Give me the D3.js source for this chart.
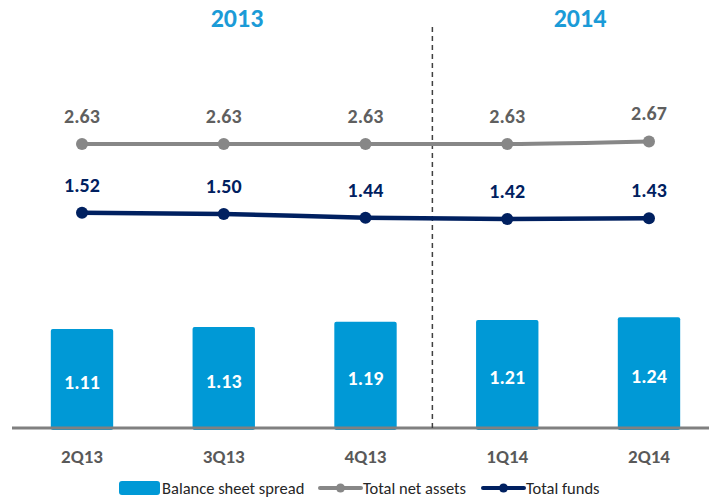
<!DOCTYPE html>
<html>
<head>
<meta charset="utf-8">
<script src="https://cdn.jsdelivr.net/npm/d3@7"></script>
<style>
  body { margin: 0; background: #fff; }
  svg { display: block; font-family: Carlito, Lato, sans-serif; }
</style>
</head>
<body>
<div id="chart"></div>
<script>
var quarters = ['2Q13', '3Q13', '4Q13', '1Q14', '2Q14'];
var spread = [1.11, 1.13, 1.19, 1.21, 1.24];
var netAssets = [2.63, 2.63, 2.63, 2.63, 2.67];
var funds = [1.52, 1.50, 1.44, 1.42, 1.43];
var years = [{label: '2013', from: 0, to: 2}, {label: '2014', from: 3, to: 4}];
var legendLabels = ['Balance sheet spread', 'Total net assets', 'Total funds'];

var w = 709;
var h = 499;
var blue = '#0099d6';
var grey = '#878787';
var navy = '#002060';

var svg = d3.select('#chart').append('svg')
  .attr('width', w).attr('height', h);

var x = d3.scalePoint().domain(quarters).range([82, 649]);
var barW = x.step() * 0.44;
var yBar = d3.scaleLinear().domain([0, 1.4]).range([428, 303]);
var yLine = d3.scaleLinear().domain([1, 3]).range([245, 121]);

// bars
svg.selectAll('rect.bar').data(spread).enter().append('rect')
  .attr('class', 'bar')
  .attr('x', function(d, i) { return x(quarters[i]) - barW / 2; })
  .attr('y', function(d) { return yBar(d); })
  .attr('width', barW)
  .attr('height', function(d) { return yBar(0) - yBar(d) + 2; })
  .attr('rx', 2)
  .attr('fill', blue);

svg.selectAll('text.barlabel').data(spread).enter().append('text')
  .attr('class', 'barlabel')
  .attr('x', function(d, i) { return x(quarters[i]); })
  .attr('y', function(d) { return (yBar(d) + yBar(0)) / 2 + 10.5; })
  .attr('text-anchor', 'middle')
  .attr('font-size', 20).attr('font-weight', 'bold')
  .attr('fill', '#fff')
  .text(function(d) { return d.toFixed(2); });

// baseline
svg.append('line')
  .attr('x1', 12).attr('x2', w)
  .attr('y1', yBar(0)).attr('y2', yBar(0))
  .attr('stroke', '#808080').attr('stroke-width', 3);

// year divider
var divX = (x(quarters[2]) + x(quarters[3])) / 2 - 4;
svg.append('line')
  .attr('x1', divX).attr('x2', divX)
  .attr('y1', 27).attr('y2', yBar(0))
  .attr('stroke', '#404040').attr('stroke-width', 1.5)
  .attr('stroke-dasharray', '5,4');

svg.selectAll('text.year').data(years).enter().append('text')
  .attr('class', 'year')
  .attr('x', function(d) { return d.to === 2 ? 237 : 580; })
  .attr('y', 27)
  .attr('text-anchor', 'middle')
  .attr('font-size', 26).attr('font-weight', 'bold')
  .attr('fill', '#1b9bd7')
  .text(function(d) { return d.label; });

// lines
var series = [
  {values: netAssets, color: grey, text: '#5f5f5f', width: 4},
  {values: funds, color: navy, text: navy, width: 4.5}
];
var line = d3.line()
  .x(function(d, i) { return x(quarters[i]); })
  .y(function(d) { return yLine(d); })
  .curve(d3.curveMonotoneX);

series.forEach(function(s) {
  svg.append('path').datum(s.values)
    .attr('d', line)
    .attr('fill', 'none')
    .attr('stroke', s.color).attr('stroke-width', s.width);

  svg.append('g').selectAll('circle').data(s.values).enter().append('circle')
    .attr('cx', function(d, i) { return x(quarters[i]); })
    .attr('cy', function(d) { return yLine(d); })
    .attr('r', 6)
    .attr('fill', s.color);

  svg.append('g').selectAll('text').data(s.values).enter().append('text')
    .attr('x', function(d, i) { return x(quarters[i]); })
    .attr('y', function(d) { return yLine(d) - 21; })
    .attr('text-anchor', 'middle')
    .attr('font-size', 20).attr('font-weight', 'bold')
    .attr('fill', s.text)
    .text(function(d) { return d.toFixed(2); });
});

// category labels
svg.selectAll('text.cat').data(quarters).enter().append('text')
  .attr('class', 'cat')
  .attr('x', function(d) { return x(d); })
  .attr('y', 463)
  .attr('text-anchor', 'middle')
  .attr('font-size', 19).attr('font-weight', 'bold')
  .attr('fill', '#595959')
  .text(function(d) { return d; });

// legend
var legend = svg.append('g').attr('font-size', 16.5).attr('fill', '#262626');
legend.append('rect')
  .attr('x', 119).attr('y', 481).attr('width', 41).attr('height', 14)
  .attr('rx', 3).attr('fill', blue);
legend.append('text').attr('x', 162).attr('y', 494).text(legendLabels[0]);

[{x0: 320, color: grey, label: legendLabels[1]}, {x0: 483, color: navy, label: legendLabels[2]}]
  .forEach(function(l) {
    legend.append('line')
      .attr('x1', l.x0).attr('x2', l.x0 + 41)
      .attr('y1', 488).attr('y2', 488)
      .attr('stroke', l.color).attr('stroke-width', 4)
      .attr('stroke-linecap', 'round');
    legend.append('circle')
      .attr('cx', l.x0 + 20.5).attr('cy', 488).attr('r', 4.5)
      .attr('fill', l.color);
    legend.append('text').attr('x', l.x0 + 43).attr('y', 494).text(l.label);
  });
</script>
</body>
</html>
